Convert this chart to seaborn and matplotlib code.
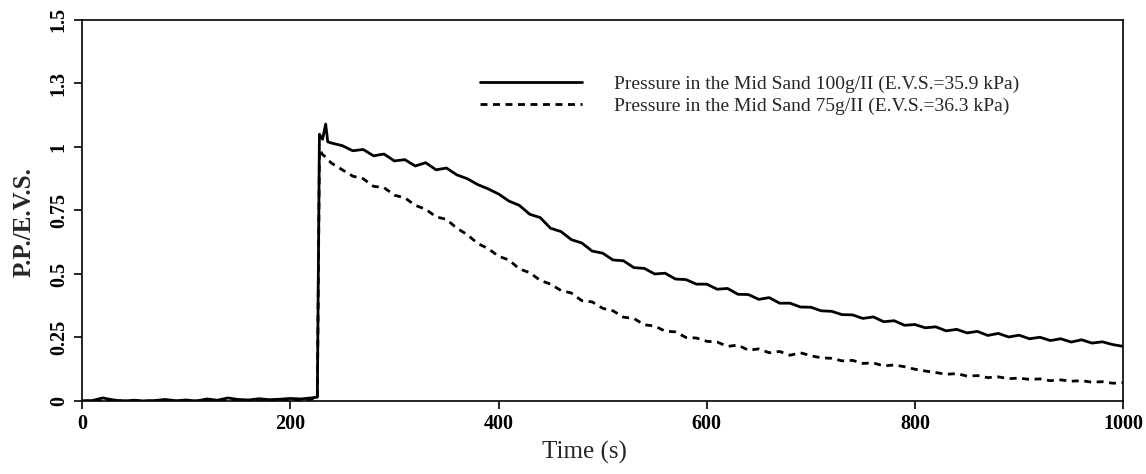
import matplotlib
matplotlib.use("Agg")
import matplotlib.pyplot as plt
import seaborn as sns
import pandas as pd

# ---- data ----
time_s = [0, 10, 20, 30, 40, 50, 60, 70, 80, 90, 100, 110, 120, 130, 140, 150,
          160, 170, 180, 190, 200, 210, 220, 226, 228, 231, 234, 236, 240,
          250, 260, 270, 280, 290, 300, 310, 320, 330, 340, 350, 360, 370, 380,
          390, 400, 410, 420, 430, 440, 450, 460, 470, 480, 490, 500, 510, 520,
          530, 540, 550, 560, 570, 580, 590, 600, 610, 620, 630, 640, 650, 660,
          670, 680, 690, 700, 710, 720, 730, 740, 750, 760, 770, 780, 790, 800,
          810, 820, 830, 840, 850, 860, 870, 880, 890, 900, 910, 920, 930, 940,
          950, 960, 970, 980, 990, 1000]

sand_100 = [0.0, 0.002, 0.012, 0.004, 0.0, 0.003, 0.0, 0.002, 0.006, 0.001,
            0.004, 0.0, 0.008, 0.003, 0.012, 0.006, 0.004, 0.009, 0.005, 0.007,
            0.010, 0.008, 0.012, 0.015, 1.05, 1.03, 1.09, 1.02, 1.015,
            1.005, 0.985, 0.99, 0.965, 0.972, 0.945, 0.95, 0.925, 0.938, 0.91,
            0.917, 0.89, 0.875, 0.852, 0.835, 0.815, 0.787, 0.77, 0.735, 0.722,
            0.68, 0.667, 0.635, 0.622, 0.59, 0.582, 0.555, 0.552, 0.525, 0.522,
            0.5, 0.503, 0.48, 0.478, 0.46, 0.46, 0.44, 0.443, 0.42, 0.419, 0.40,
            0.407, 0.385, 0.385, 0.37, 0.369, 0.355, 0.353, 0.34, 0.339, 0.325,
            0.331, 0.312, 0.316, 0.298, 0.301, 0.288, 0.292, 0.276, 0.282, 0.268,
            0.274, 0.258, 0.266, 0.252, 0.259, 0.245, 0.251, 0.238, 0.245, 0.232,
            0.241, 0.228, 0.233, 0.222, 0.215]

sand_75 = [0.0, 0.001, 0.0, 0.003, 0.0, 0.002, 0.0, 0.001, 0.003, 0.0,
           0.002, 0.0, 0.004, 0.001, 0.006, 0.003, 0.002, 0.005, 0.002, 0.004,
           0.006, 0.004, 0.007, 0.01, 0.99, 0.97, 0.96, 0.95, 0.935,
           0.91, 0.885, 0.875, 0.845, 0.84, 0.81, 0.80, 0.77, 0.755, 0.725,
           0.715, 0.68, 0.655, 0.62, 0.60, 0.57, 0.555, 0.52, 0.505, 0.475,
           0.46, 0.435, 0.425, 0.395, 0.39, 0.365, 0.355, 0.33, 0.325, 0.30,
           0.295, 0.275, 0.272, 0.25, 0.248, 0.235, 0.232, 0.215, 0.22, 0.20,
           0.205, 0.19, 0.195, 0.18, 0.19, 0.178, 0.17, 0.168, 0.158, 0.16,
           0.148, 0.15, 0.138, 0.142, 0.135, 0.125, 0.118, 0.112, 0.105, 0.108,
           0.098, 0.10, 0.092, 0.095, 0.088, 0.09, 0.085, 0.087, 0.08, 0.083,
           0.078, 0.08, 0.074, 0.076, 0.07, 0.072]

label_100 = "Pressure in the Mid Sand 100g/II (E.V.S.=35.9 kPa)"
label_75 = "Pressure in the Mid Sand 75g/II (E.V.S.=36.3 kPa)"

x_ticks = [0, 200, 400, 600, 800, 1000]
y_ticks = [0, 0.25, 0.5, 0.75, 1, 1.25, 1.5]
y_tick_labels = ["0", "0.25", "0.5", "0.75", "1", "1.3", "1.5"]

# ---- plotting ----
sns.set_theme(style="ticks")
plt.rcParams["font.family"] = ["Liberation Serif", "DejaVu Serif"]

df = pd.DataFrame({"Time": time_s, "s100": sand_100, "s75": sand_75})

fig = plt.figure(figsize=(11.46, 4.74), dpi=100)
ax = fig.add_axes([0.0716, 0.154, 0.9085, 0.804])

sns.lineplot(data=df, x="Time", y="s100", ax=ax, color="black",
             linewidth=2.0, label=label_100, estimator=None, sort=False)
sns.lineplot(data=df, x="Time", y="s75", ax=ax, color="black",
             linewidth=2.0, linestyle=(0, (2.5, 2.0)), label=label_75,
             estimator=None, sort=False)

ax.set_xlim(0, 1000)
ax.set_ylim(0, 1.5)
ax.set_xticks(x_ticks)
ax.set_xticklabels([str(v) for v in x_ticks])
ax.set_yticks(y_ticks)
ax.set_yticklabels(y_tick_labels, rotation=90, va="center")

for sp in ax.spines.values():
    sp.set_visible(True)
    sp.set_linewidth(1.2)
    sp.set_color("black")

ax.tick_params(axis="both", direction="out", length=5.5, width=1.2,
               colors="black", labelsize=14.5, pad=4)
for lab in ax.get_xticklabels() + ax.get_yticklabels():
    lab.set_fontweight("bold")

ax.set_xlabel("Time (s)", fontsize=18)
ax.set_ylabel("P.P./E.V.S.", fontsize=18, fontweight="bold")
ax.xaxis.set_label_coords(0.483, -0.105)
ax.yaxis.set_label_coords(-0.045, 0.47)

leg = ax.legend(loc="upper left", bbox_to_anchor=(0.382, 0.854),
                frameon=False, fontsize=14, handlelength=5.25,
                handletextpad=1.65, labelspacing=0.2, borderpad=0,
                borderaxespad=0)

fig.savefig("out.png", dpi=100, facecolor="white")
